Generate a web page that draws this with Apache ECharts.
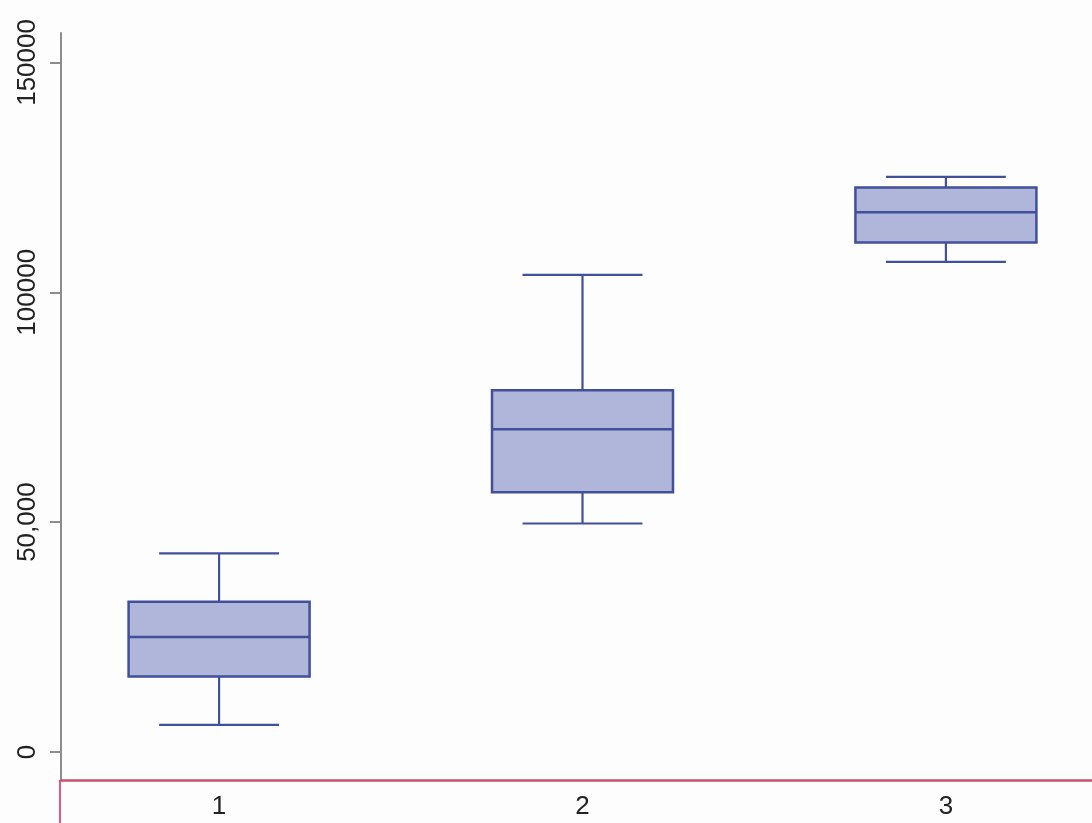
<!DOCTYPE html>
<html>
<head>
<meta charset="utf-8">
<script src="https://cdn.jsdelivr.net/npm/echarts@6/dist/echarts.min.js"></script>
<style>
  html, body { margin: 0; padding: 0; background: #fdfdfd; }
  #chart { width: 1092px; height: 823px; }
</style>
</head>
<body>
<div id="chart"></div>
<script>
// Group labels and their positions on the x axis
const groups = ['1', '2', '3'];
const groupPos = [1, 2, 3];

// Five-number summaries per group
const whiskerLow  = [5900, 49700, 106600];
const q1          = [16400, 56500, 110800];
const medians     = [25000, 70200, 117400];
const q3          = [32700, 78700, 122800];
const whiskerHigh = [43200, 103800, 125100];

// Y axis ticks and their printed labels
const yTickValues = [0, 50000, 100000, 150000];
const yTickLabels = ['0', '50,000', '100000', '150000'];

const boxData = groupPos.map((x, i) => [x, whiskerLow[i], q1[i], medians[i], q3[i], whiskerHigh[i]]);

const strokeColor = '#41509a';
const fillColor = '#b0b5da';

function renderBox(params, api) {
  const x = api.value(0);
  const lo = api.coord([x, api.value(1)]);
  const b1 = api.coord([x, api.value(2)]);
  const md = api.coord([x, api.value(3)]);
  const b3 = api.coord([x, api.value(4)]);
  const hi = api.coord([x, api.value(5)]);
  const boxW = api.size([0.498, 0])[0];
  const capW = api.size([0.33, 0])[0];
  const cx = md[0];
  const lineStyle = { stroke: strokeColor, lineWidth: 2.2 };
  return {
    type: 'group',
    children: [
      { type: 'line', shape: { x1: cx, y1: hi[1], x2: cx, y2: b3[1] }, style: lineStyle },
      { type: 'line', shape: { x1: cx, y1: b1[1], x2: cx, y2: lo[1] }, style: lineStyle },
      { type: 'line', shape: { x1: cx - capW / 2, y1: hi[1], x2: cx + capW / 2, y2: hi[1] }, style: lineStyle },
      { type: 'line', shape: { x1: cx - capW / 2, y1: lo[1], x2: cx + capW / 2, y2: lo[1] }, style: lineStyle },
      { type: 'rect', shape: { x: cx - boxW / 2, y: b3[1], width: boxW, height: b1[1] - b3[1] },
        style: { fill: fillColor, stroke: strokeColor, lineWidth: 2.5 } },
      { type: 'line', shape: { x1: cx - boxW / 2, y1: md[1], x2: cx + boxW / 2, y2: md[1] },
        style: { stroke: strokeColor, lineWidth: 2.5 } }
    ]
  };
}

const chart = echarts.init(document.getElementById('chart'), null, { renderer: 'canvas' });

chart.setOption({
  backgroundColor: '#fdfdfd',
  animation: false,
  grid: { left: 61, right: 0, top: 33, bottom: 43, containLabel: false, outerBoundsMode: 'none' },
  xAxis: {
    type: 'value',
    min: 0.565,
    max: 3.402,
    axisLine: { show: true, onZero: false, lineStyle: { color: '#c9506b', width: 2.5 } },
    axisTick: { show: false },
    splitLine: { show: false },
    axisLabel: {
      customValues: groupPos,
      formatter: v => groups[groupPos.indexOf(v)],
      fontSize: 26,
      color: '#222',
      fontFamily: 'Liberation Sans, Arial, sans-serif',
      margin: 14
    }
  },
  yAxis: {
    type: 'value',
    min: -6100,
    max: 156400,
    axisLine: { show: true, onZero: false, lineStyle: { color: '#8c8c8c', width: 2 } },
    axisTick: { show: true, length: 11, customValues: yTickValues, lineStyle: { color: '#8c8c8c', width: 2 } },
    splitLine: { show: false },
    axisLabel: {
      customValues: yTickValues,
      formatter: v => yTickLabels[yTickValues.indexOf(v)],
      rotate: 90,
      margin: 20,
      fontSize: 26,
      color: '#222',
      fontFamily: 'Liberation Sans, Arial, sans-serif'
    }
  },
  graphic: [
    { type: 'line', shape: { x1: 60, y1: 780, x2: 60, y2: 823 }, style: { stroke: '#e0577f', lineWidth: 2 } }
  ],
  series: [{
    type: 'custom',
    renderItem: renderBox,
    encode: { x: 0, y: [1, 2, 3, 4, 5] },
    data: boxData
  }]
});
</script>
</body>
</html>
